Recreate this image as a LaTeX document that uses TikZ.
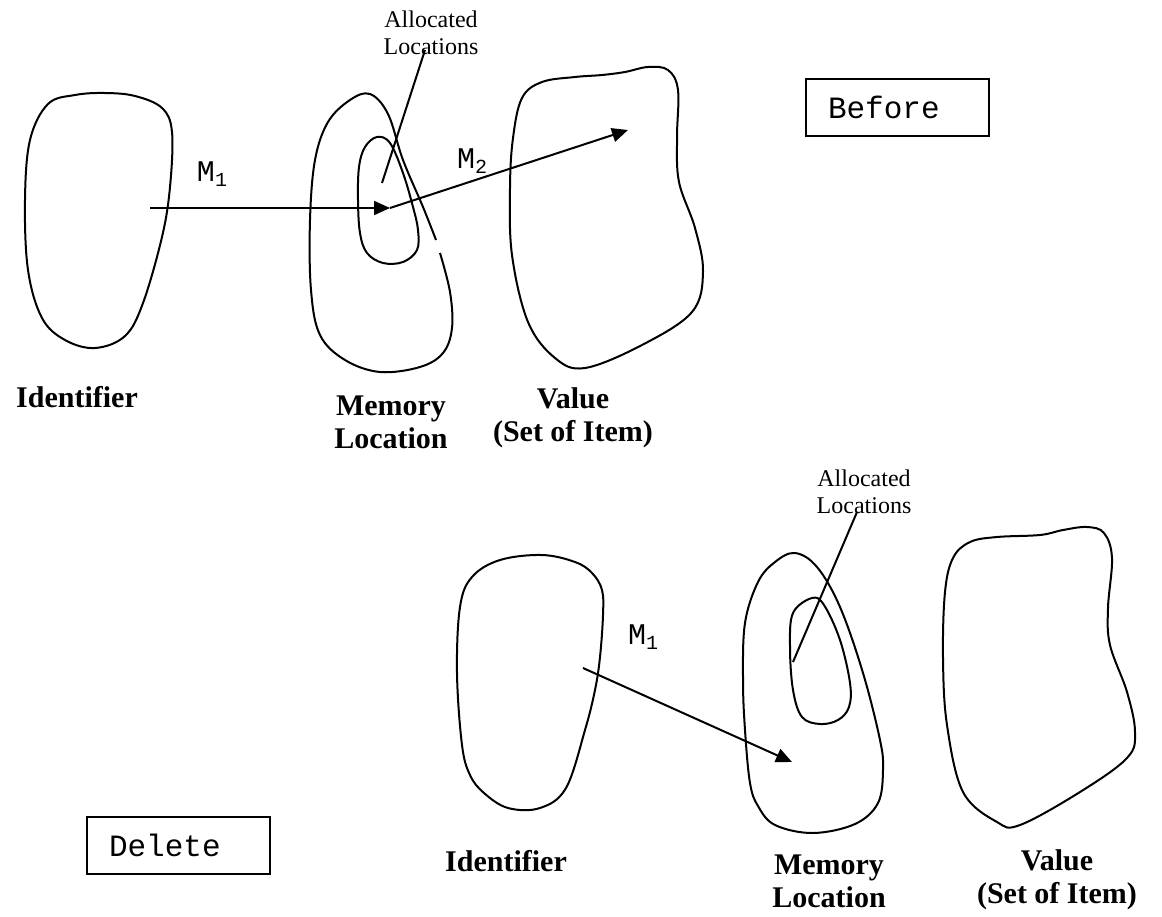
\documentclass[tikz,border=0pt]{standalone}
\usepackage{fontspec}
\setmainfont{Liberation Serif}
\newfontfamily\monof{Liberation Mono}
\usetikzlibrary{arrows.meta}

\tikzset{
  blob/.style={draw=black, line width=2pt, smooth cycle, tension=0.6},
  curve/.style={draw=black, line width=2pt, smooth, tension=0.6},
  map/.style={draw=black, line width=2pt, -{Triangle[length=16pt,width=14pt]}},
  pointer/.style={draw=black, line width=2pt},
  lab/.style={font=\fontsize{30}{33}\selectfont\bfseries, align=center, inner sep=0pt},
  small/.style={font=\fontsize{24}{27}\selectfont, align=center, inner sep=0pt},
  mlab/.style={font=\monof\fontsize{30}{33}\selectfont, inner sep=0pt},
  tag/.style={draw=black, line width=2pt, anchor=north west, minimum width=183pt,
    minimum height=57pt, text width=139pt, inner xsep=22pt, align=left,
    font=\monof\fontsize{31}{33}\selectfont},
}
\newcommand{\sub}[1]{\raisebox{-0.35ex}{\fontsize{20}{20}\selectfont #1}}

\begin{document}
\begin{tikzpicture}[x=1pt, y=-1pt]
\useasboundingbox (0,0) rectangle (1162,916);

% ---------------- upper diagram ----------------
% identifier set
\draw[blob] plot coordinates {(105,93) (135,96) (162,108) (172,132) (170,187) (162,237)
  (143,303) (125,336) (95,348) (65,340) (42,318) (28,270) (25,200) (30,140) (48,104) (75,95)};
% memory locations (outer, with a small break on the right side)
\draw[curve] plot coordinates {(436,240) (423,207) (403,160) (388,114) (370,94) (350,100)
  (328,122) (315,160) (310,220) (311,290) (320,335) (345,360) (380,372) (420,367)
  (443,353) (452,328) (450,292) (440,253)};
% allocated locations
\draw[blob] plot coordinates {(377,137) (365,147) (359,167) (358,200) (360,233) (367,253)
  (383,263) (403,262) (417,250) (418,230) (413,207) (403,173) (390,143)};
% values
\draw[blob] plot coordinates {(542,82) (575,77) (602,75) (625,72) (648,67) (668,70)
  (678,90) (677,138) (679,182) (695,228) (703,272) (692,312) (642,345) (585,368)
  (555,358) (528,322) (512,255) (510,188) (513,138) (522,98)};

\coordinate (a1) at (150,208);
\coordinate (a2) at (390,208);
\coordinate (a3) at (628,130);
\draw[map] (a1) -- (a2);
\draw[map] (a2) -- (a3);
\node[mlab] (m1a) at (212,174) {M\sub{1}};
\node[mlab] (m2a) at (472,161) {M\sub{2}};

\node[small] (alloca) at (431,33) {Allocated\\Locations};
\coordinate (pa) at (382,183);
\draw[pointer] (425,50) -- (pa);

\node[lab] (ida) at (77,397) {Identifier};
\node[lab] (mema) at (391,422) {Memory\\Location};
\node[lab] (vala) at (573,418) {Value\\(Set of Item)};

\node[tag] (before) at (805,78) {Before};

% ---------------- lower diagram ----------------
\draw[blob] plot coordinates {(542,555) (575,562) (592,573) (602,590) (603,615) (600,657)
  (595,690) (585,730) (566,788) (540,808) (508,808) (484,793) (470,775) (462,745)
  (457,673) (460,607) (472,577) (500,560)};
\draw[blob] plot coordinates {(795,553) (817,567) (840,607) (863,673) (880,740) (883,770)
  (878,803) (855,824) (813,833) (775,825) (758,806) (750,783) (745,730) (743,680)
  (745,623) (758,582) (775,562)};
\draw[blob] plot coordinates {(812,598) (824,605) (840,640) (850,683) (849,707) (838,720)
  (820,724) (802,717) (793,690) (790,647) (793,613)};
\draw[blob] plot coordinates {(970,542) (997,537) (1040,535) (1063,530) (1087,527)
  (1104,533) (1112,558) (1108,608) (1110,645) (1127,692) (1135,732) (1127,758)
  (1080,792) (1020,825) (997,822) (963,792) (947,725) (943,658) (945,592) (953,558)};

\coordinate (b1) at (583,668);
\coordinate (b2) at (792,762);
\draw[map] (b1) -- (b2);
\node[mlab] (m1b) at (643,637) {M\sub{1}};

\node[small] (allocb) at (864,492) {Allocated\\Locations};
\coordinate (pb) at (793,662);
\draw[pointer] (857,512) -- (pb);

\node[lab] (idb) at (506,861) {Identifier};
\node[lab] (memb) at (829,881) {Memory\\Location};
\node[lab] (valb) at (1057,880) {Value\\(Set of Item)};

\node[tag] (delete) at (86,816) {Delete};
\end{tikzpicture}
\end{document}
